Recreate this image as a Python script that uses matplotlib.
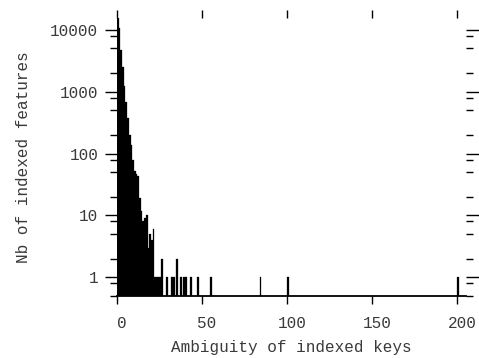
import matplotlib
matplotlib.use('Agg')
import matplotlib.pyplot as plt
import matplotlib.transforms as mtransforms
from matplotlib.ticker import LogLocator, FixedLocator, NullFormatter

# ambiguity of indexed keys -> number of indexed features
ambiguity = [0, 1, 2, 3, 4, 5, 6, 7, 8, 9, 10, 11, 12, 13, 14, 15, 16, 17, 18, 19,
             20, 21, 22, 23, 24, 25, 26, 29, 32, 33, 35, 37, 39, 40, 43, 47,
             55, 84, 100, 200]
counts = [15500, 10700, 4800, 2500, 1250, 690, 380, 200, 140, 80, 53, 46, 44, 19,
          12, 8, 9, 10, 3, 5, 4, 6, 1, 1, 1, 1, 2, 1, 1, 1, 2, 1, 1, 1, 1, 1,
          1, 1, 1, 1]

xticks = [0, 50, 100, 150, 200]
yticks = [1, 10, 100, 1000, 10000]

plt.rcParams['font.family'] = ['Liberation Mono', 'DejaVu Sans Mono']
txt = '#3a3a3a'

fig = plt.figure(figsize=(4.79, 3.58), dpi=100)
ax = fig.add_axes([117 / 479, 62 / 358, 349 / 479, 278 / 358])

ax.bar(ambiguity, counts, width=1, align='edge', color='black', edgecolor='black', linewidth=0.2)

ax.set_yscale('log')
ax.set_xlim(0, 205.3)
ax.set_ylim(0.5, 15500)

ax.xaxis.set_major_locator(FixedLocator(xticks))
ax.yaxis.set_major_locator(FixedLocator(yticks))
ax.yaxis.set_minor_locator(LogLocator(base=10, subs=(2.0, 5.0, 8.0)))
ax.yaxis.set_minor_formatter(NullFormatter())
ax.set_yticklabels([str(v) for v in yticks])

for s in ['left', 'top', 'right']:
    ax.spines[s].set_visible(False)
ax.spines['bottom'].set_linewidth(1.3)

ax.tick_params(axis='both', which='both', direction='out', top=True, right=True,
               labeltop=False, labelright=False, colors='black', labelcolor=txt,
               labelsize=11.5, width=1.0)
ax.tick_params(axis='x', which='major', length=6, pad=8.5)
ax.tick_params(axis='y', which='major', length=9, pad=4.5)
ax.tick_params(axis='y', which='minor', length=5)

# gnuplot-style labels sit a few pixels right of their ticks
shift = mtransforms.ScaledTranslation(5 / 100, 0, fig.dpi_scale_trans)
for lab in ax.get_xticklabels():
    lab.set_transform(lab.get_transform() + shift)

ax.set_xlabel('Ambiguity of indexed keys', fontsize=11.5, color=txt, labelpad=6.5)
ax.set_ylabel('Nb of indexed features', fontsize=11.5, color=txt, labelpad=14)

fig.savefig('out.png', dpi=100)
